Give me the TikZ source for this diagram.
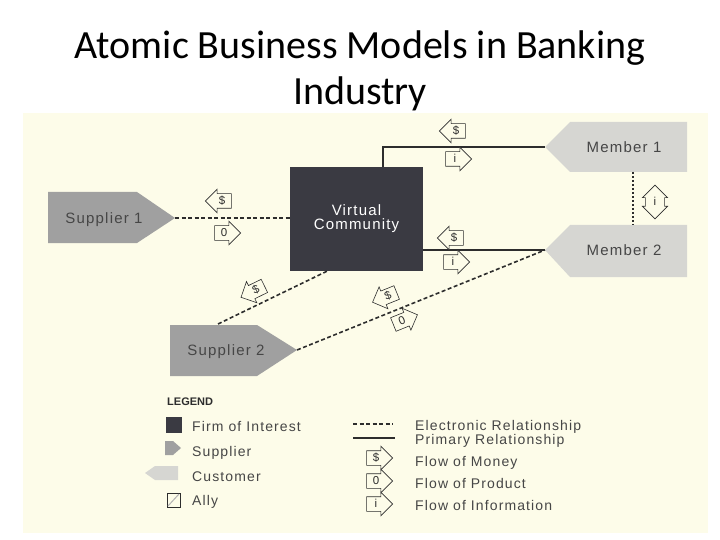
\documentclass[tikz,border=0pt]{standalone}
\usepackage{fontspec}
\setmainfont{Liberation Sans}
\newfontfamily\titlefont{Carlito}
\newfontfamily\lblfont[LetterSpace=8]{Liberation Sans}
\usetikzlibrary{positioning,shapes.arrows}

\definecolor{bgcream}{RGB}{253,252,233}
\definecolor{firmgray}{RGB}{58,58,66}
\definecolor{suppgray}{RGB}{160,160,160}
\definecolor{custgray}{RGB}{214,214,210}
\definecolor{linegray}{RGB}{45,45,45}
\definecolor{textgray}{RGB}{70,70,70}

\tikzset{
  lbl/.style={font=\lblfont\fontsize{15}{17}\selectfont, text=textgray, inner sep=0pt, text height=10.7pt, text depth=0pt},
  leglbl/.style={font=\lblfont\fontsize{14}{16}\selectfont, text=textgray, inner sep=0pt, text height=10pt, text depth=0pt, anchor=west},
  prim/.style={draw=linegray, line width=1.6pt},
  elec/.style={prim, dash pattern=on 4pt off 2.5pt},
  dotl/.style={prim, dash pattern=on 2pt off 2pt},
  flowr/.style={single arrow, draw=linegray, fill=bgcream, line width=0.6pt, text=linegray,
    font=\fontsize{11.5}{12}\selectfont, inner sep=2.5pt, text height=8pt, text depth=1pt,
    single arrow head extend=4.5pt, single arrow head indent=0pt, minimum height=26pt},
  flowl/.style={flowr, shape border rotate=180},
  flowud/.style={double arrow, draw=linegray, fill=bgcream, line width=0.6pt, text=linegray,
    font=\fontsize{11.5}{12}\selectfont, inner xsep=8pt, inner ysep=2.5pt, text height=8pt, text depth=1pt,
    double arrow head extend=3pt, double arrow head indent=0pt, minimum height=31pt,
    shape border rotate=90}
}

\begin{document}
\begin{tikzpicture}[x=1pt, y=-1pt]
    \useasboundingbox (0,0) rectangle (720,540);

    % Title
    \node[font=\titlefont\fontsize{40}{46}\selectfont, anchor=base] (title1) at (360,59) {Atomic Business Models in Banking};
    \node[font=\titlefont\fontsize{40}{46}\selectfont, anchor=base] (title2) at (360,105) {Industry};

    % Scanned page
    \fill[bgcream] (23,113) rectangle (708,533);

    % Firm of interest
    \node[fill=firmgray, minimum width=133, minimum height=104, text=white, align=center,
          font=\lblfont\fontsize{15}{14}\selectfont] (vc) at (356.5,219) {Virtual\\Community};

    % Suppliers
    \fill[suppgray] (48,192) -- (137,192) -- (175,218) -- (137,243) -- (48,243) -- cycle;
    \coordinate (s1tip) at (175,218);
    \node[lbl] (sup1) at (104,218) {Supplier 1};

    \fill[suppgray] (170,325) -- (257,325) -- (297,350) -- (257,376) -- (170,376) -- cycle;
    \coordinate (s2tip) at (297,350);
    \coordinate (s2top) at (218,324);
    \node[lbl] (sup2) at (226,350) {Supplier 2};

    % Customers
    \fill[custgray] (687,122) -- (570,122) -- (545,147) -- (570,172) -- (687,172) -- cycle;
    \coordinate (m1tip) at (545,147);
    \coordinate (m1bot) at (633,172);
    \node[lbl] (mem1) at (624,147) {Member 1};

    \fill[custgray] (687,225) -- (570,225) -- (545,250) -- (570,277) -- (687,277) -- cycle;
    \coordinate (m2tip) at (545,250);
    \coordinate (m2top) at (633,225);
    \node[lbl] (mem2) at (624,250) {Member 2};

    % Relationships
    \draw[prim] ([xshift=26.5pt]vc.north) |- (m1tip);
    \draw[prim] (vc.east |- m2tip) -- (m2tip);
    \draw[elec] (s1tip) -- (vc.west |- s1tip);
    \draw[elec] (s2top) -- ([xshift=-29.5pt]vc.south);
    \draw[elec] (s2tip) -- (m2tip);
    \draw[dotl] (m1bot) -- (m2top);

    % Flows
    \node[flowl] (f1) at (456,131) {\$};
    \node[flowr] (f2) at (455,159) {i};
    \node[flowl] (f3) at (454,238) {\$};
    \node[flowr] (f4) at (453,262) {i};
    \node[flowl] (f5) at (222,201) {\$};
    \node[flowr] (f6) at (224,233) {0};
    \node[flowl, rotate=26] (f7) at (256,290) {\$};
    \node[flowl, rotate=22] (f8) at (388,296) {\$};
    \node[flowr, rotate=22] (f9) at (402,321) {0};
    \node[flowud] (f10) at (655,202) {i};

    % Legend
    \node[font=\bfseries\fontsize{11}{12}\selectfont, text=linegray, anchor=west, inner sep=0pt] (leg) at (167,402) {LEGEND};
    \fill[firmgray] (166,417) rectangle (182,433);
    \fill[suppgray] (165,441) -- (173,441) -- (181,448) -- (173,455) -- (165,455) -- cycle;
    \fill[custgray] (178,466) -- (155,466) -- (145,473) -- (155,480) -- (178,480) -- cycle;
    \draw[linegray, line width=0.6pt] (167,493) rectangle (180,507);
    \draw[gray!60, line width=1pt] (168,506) -- (179,494);
    \node[leglbl] (lfirm) at (192,426.5) {Firm of Interest};
    \node[leglbl] (lsupp) at (192,451) {Supplier};
    \node[leglbl] (lcust) at (192,476) {Customer};
    \node[leglbl] (lally) at (192,500) {Ally};

    \draw[elec, line width=1.2pt] (353,424) -- (393,424);
    \draw[prim, line width=1.2pt] (353,438) -- (395,438);
    \node[flowr] (lmoney) at (376,458) {\$};
    \node[flowr] (lprod) at (376,481) {0};
    \node[flowr] (linfo) at (376,504) {i};
    \node[leglbl] (lelec) at (415,425) {Electronic Relationship};
    \node[leglbl] (lprim) at (415,439) {Primary Relationship};
    \node[leglbl] (lmon) at (415,461) {Flow of Money};
    \node[leglbl] (lpro) at (415,483) {Flow of Product};
    \node[leglbl] (linf) at (415,505) {Flow of Information};
\end{tikzpicture}
\end{document}
